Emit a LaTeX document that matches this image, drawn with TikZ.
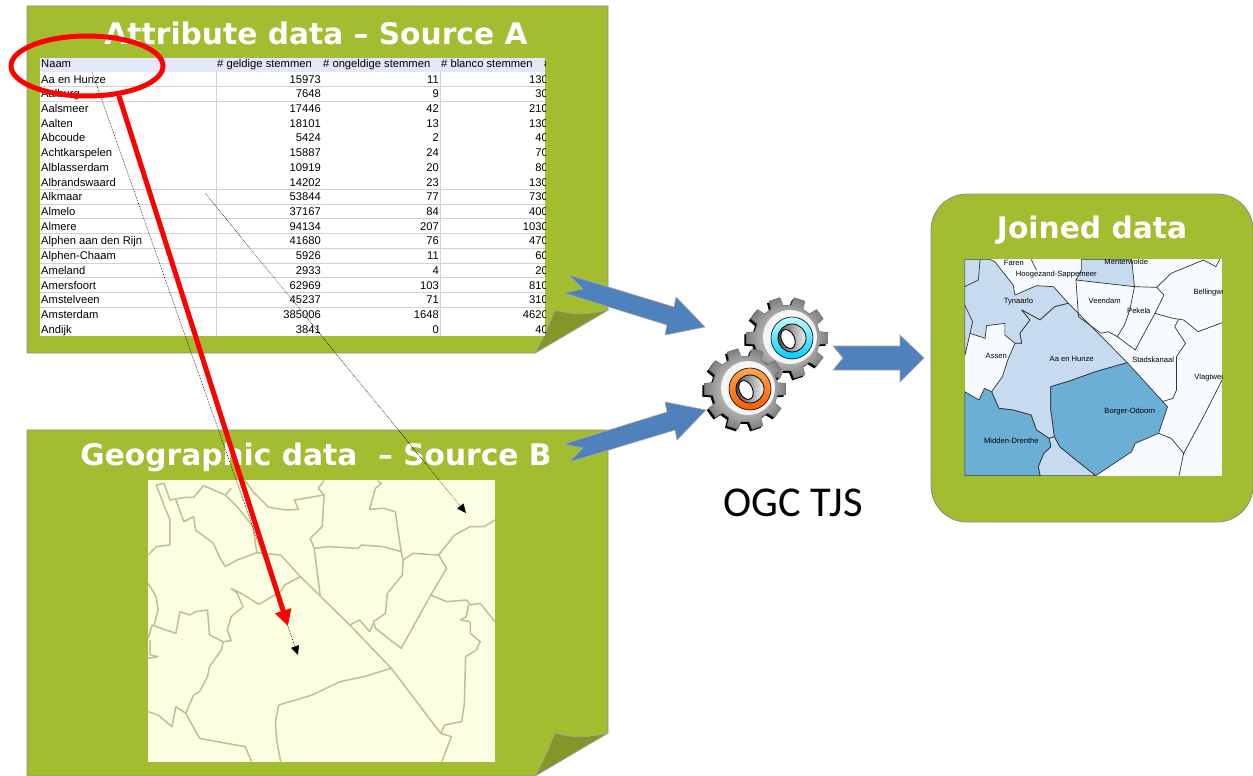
\documentclass[tikz,border=0pt]{standalone}
\usepackage{fontspec}
\usetikzlibrary{arrows.meta,shapes.geometric}
\setmainfont{Liberation Sans}
\newfontfamily\titlefamily{DejaVu Sans}
\newfontfamily\calloutfamily{Carlito}
\definecolor{sheetgreen}{HTML}{A3BD30}
\definecolor{foldgreen}{HTML}{849628}
\definecolor{blockblue}{HTML}{4F81BD}
\definecolor{paleyellow}{HTML}{FDFFE3}
\definecolor{mapline}{HTML}{BDBF98}
\definecolor{paleblue}{HTML}{C6DBEF}
\definecolor{midblue}{HTML}{6BAED6}
\definecolor{nearwhite}{HTML}{F7FBFF}
\definecolor{headerfill}{HTML}{E4E6FB}
\newcommand{\gearteeth}{(-11:33) \foreach \a in {0,36,...,324} {-- ({\a-11}:33) -- ({\a-8}:41) -- ({\a+8}:41) -- ({\a+11}:33)} -- cycle}
\tikzset{
  sheet/.style={fill=sheetgreen,draw=black!45,line width=.8pt},
  fold/.style={fill=foldgreen,draw=black!35,line width=.6pt},
  blockarrow/.style={fill=blockblue,draw=black!35,line width=.6pt},
  title/.style={text=white,font=\titlefamily\bfseries\fontsize{29.7}{34}\selectfont},
  cell/.style={inner sep=0pt,font=\fontsize{11.2}{13}\selectfont},
  border/.style={mapline,line width=1.5pt,line join=round},
  joinline/.style={black!80,line width=.7pt,line join=round},
  place/.style={inner sep=0pt,font=\fontsize{7.6}{9}\selectfont},
  pointer/.style={densely dotted,line width=.6pt,-{Triangle[length=9pt,width=8pt]}},
  pics/gearwheel/.style n args={2}{code={
    \fill[black,shift={(-2,2)}] \gearteeth;
    \shade[inner color=white,outer color=black!50,draw=black!60,line width=.4pt] \gearteeth;
    \fill[black!4] (3,-1) circle [radius=27];
    \shade[top color=#1,bottom color=#2,draw=black,line width=.6pt] (5,0) circle [radius=21];
    \shade[left color=black!70,right color=black!5,draw=black,line width=.8pt] (5,0) circle [radius=14];
    \fill[white,draw=black,line width=.9pt,rotate around={25:(1,1)}] (1,1) ellipse [x radius=6.5,y radius=10];
  }}
}
\begin{document}
\begin{tikzpicture}[x=1pt,y=-1pt]
\useasboundingbox (0,0) rectangle (1253,776);
\draw[sheet] (27,6) -- (608,6) -- (608,310) -- (535,353) -- (27,353) -- cycle;
\draw[fold] (535,353) .. controls (545,335) and (550,322) .. (555,310) .. controls (575,316) and (590,314) .. (608,310) -- cycle;
\draw[sheet] (27,430) -- (608,430) -- (608,733) -- (535,776) -- (27,776) -- cycle;
\draw[fold] (535,776) .. controls (545,758) and (550,745) .. (555,733) .. controls (575,739) and (590,737) .. (608,733) -- cycle;
\draw[sheet,rounded corners=36pt] (931,194) rectangle (1253,522);
\node[title] (attrtitle) at (316,33) {Attribute data – Source A};
\node[title] (geotitle) at (316,457) {Geographic data \ – Source B};
\node[title] (jointitle) at (1092,230) {Joined data};
\node[inner sep=0pt,font=\calloutfamily\fontsize{42.5}{50}\selectfont] (tjslabel) at (793,503) {OGC TJS};
\fill[white] (40,58) rectangle (545,336);
\fill[headerfill] (40,58) rectangle (545,72);
\foreach \r in {1,2,8,9,...,16}
  \draw[black!18,line width=.9pt] (40,{71.7+14.72*\r}) -- (545,{71.7+14.72*\r});
\foreach \c in {216,440}
  \draw[black!18,line width=.9pt] (\c,72) -- (\c,336);
\begin{scope}
\clip (40,58) rectangle (545,336);
\node[cell,anchor=base west] (naamhead) at (41,68) {Naam};
\node[cell,anchor=base west] (geldighead) at (217,68) {\# geldige stemmen};
\node[cell,anchor=base west] (ongeldighead) at (323,68) {\# ongeldige stemmen};
\node[cell,anchor=base west] (blancohead) at (441,68) {\# blanco stemmen};
\node[cell,anchor=base west] (nexthead) at (544,68) {\#};
\foreach \naam/\geldig/\ongeldig/\blanco [count=\r from 0] in {Aa en Hunze/15973/11/130,Aalburg/7648/9/30,Aalsmeer/17446/42/210,Aalten/18101/13/130,Abcoude/5424/2/40,Achtkarspelen/15887/24/70,Alblasserdam/10919/20/80,Albrandswaard/14202/23/130,Alkmaar/53844/77/730,Almelo/37167/84/400,Almere/94134/207/1030,Alphen aan den Rijn/41680/76/470,Alphen-Chaam/5926/11/60,Ameland/2933/4/20,Amersfoort/62969/103/810,Amstelveen/45237/71/310,Amsterdam/385006/1648/4620,Andijk/3841/0/40} {
  \node[cell,anchor=base west] (naam\r) at (41,{83+14.72*\r}) {\naam};
  \node[cell,anchor=base east] (geldig\r) at (321,{83+14.72*\r}) {\geldig};
  \node[cell,anchor=base east] (ongeldig\r) at (439,{83+14.72*\r}) {\ongeldig};
  \node[cell,anchor=base east] (blanco\r) at (548,{83+14.72*\r}) {\blanco};
}
\end{scope}
\fill[paleyellow] (148,480) rectangle (495,762);
\begin{scope}[shift={(0,420)},xscale=1/2.53,yscale=1/3]
\clip (375,180) rectangle (1252,1025);
\draw[border] (395,195) -- (415,190) -- (430,240) -- (470,232) -- (490,232) -- (515,197) -- (570,225) -- (585,205);
\draw[border] (620,182) -- (640,215) -- (680,262) -- (725,270) -- (755,268) -- (745,240) -- (820,225) -- (805,205) -- (820,182);
\draw[border] (820,225) -- (815,320) -- (785,355) -- (795,385) -- (830,380) -- (905,385) -- (915,375) -- (970,380) -- (1015,395) -- (1000,275) -- (970,265) -- (935,268) -- (950,205) -- (965,190) -- (955,182);
\draw[border] (795,385) -- (810,525);
\draw[border] (1015,395) -- (1020,420) -- (1045,400) -- (1110,405) -- (1150,345) -- (1190,320) -- (1225,320) -- (1252,300);
\draw[border] (1020,420) -- (1018,465) -- (980,520) -- (975,580) -- (945,605) -- (950,625) -- (1015,685) -- (1090,525) -- (1130,445) -- (1110,405);
\draw[border] (885,615) -- (910,600) -- (935,635) -- (945,610);
\draw[border] (1090,525) -- (1130,545) -- (1180,540) -- (1190,555) -- (1215,550) -- (1252,605);
\draw[border] (1185,555) -- (1180,590) -- (1165,600) -- (1190,605) -- (1190,640) -- (1215,665) -- (1205,690) -- (1178,710) -- (1175,850) -- (1168,905) -- (1125,915) -- (1115,940) -- (1142,950) -- (1118,1025);
\draw[border] (570,440) -- (600,420) -- (650,398) -- (710,405) -- (760,470) -- (885,615) -- (990,745) -- (1115,940);
\draw[border] (990,745) -- (920,770) -- (860,785) -- (790,825) -- (705,855) -- (697,905) -- (700,960) -- (710,1025);
\draw[border] (760,470) -- (720,495) -- (710,515) -- (655,553) -- (610,520) -- (585,505) -- (600,520) -- (615,560) -- (585,590) -- (575,630) -- (585,662) -- (565,665) -- (530,645) -- (525,570) -- (495,575) -- (480,585) -- (455,575) -- (445,640) -- (420,630) -- (385,615) -- (375,655);
\draw[border] (565,665) -- (560,690) -- (530,740) -- (525,770) -- (505,815) -- (490,825) -- (470,880) -- (445,860) -- (435,920) -- (400,885) -- (375,875);
\draw[border] (470,880) -- (505,955) -- (550,965) -- (620,980) -- (637,1025);
\draw[border] (375,490) -- (395,530) -- (400,570) -- (390,615);
\draw[border] (375,405) -- (395,380) -- (430,375) -- (430,300) -- (410,240) -- (395,195);
\draw[border] (570,440) -- (555,410) -- (540,370) -- (495,330) -- (490,290) -- (465,305) -- (445,240);
\draw[border] (650,400) -- (640,320) -- (600,260) -- (570,225);
\draw[border] (380,660) -- (380,705) -- (400,710) -- (375,715);
\end{scope}
\fill[nearwhite] (965,259) rectangle (1222,476);
\begin{scope}[shift={(690,190)},xscale=1/2.785,yscale=1/3]
\clip (765,208) rectangle (1482,857);
\draw[joinline,fill=paleblue] (765,208) -- (835,208) -- (849,215) -- (900,285) -- (905,315) -- (965,287) -- (1012,290) -- (1054,340) -- (1016,350) -- (975,390) -- (924,360) -- (947,390) -- (919,430) -- (924,460) -- (905,460) -- (877,435) -- (877,400) -- (826,407) -- (822,445) -- (780,430) -- (766,495) -- (765,495) -- cycle;
\draw[joinline] (808,208) -- (803,270) -- (765,290);
\draw[joinline] (765,345) -- (787,395) -- (780,430);
\draw[joinline,fill=paleblue] (1090,208) -- (1090,240) -- (1075,270) -- (1238,290) -- (1230,208) -- cycle;
\draw[joinline,fill=paleblue] (1054,340) -- (1218,518) -- (1130,545) -- (1060,572) -- (1005,590) -- (1005,660) -- (1015,740) -- (1000,745) -- (965,720) -- (950,675) -- (900,660) -- (860,655) -- (840,605) -- (870,560) -- (885,510) -- (905,460) -- (924,460) -- (919,430) -- (947,390) -- (924,360) -- (975,390) -- (1016,350) -- cycle;
\draw[joinline,fill=paleblue] (1015,740) -- (1030,770) -- (1075,810) -- (1130,857) -- (975,857) -- (970,830) -- (985,790) -- (1005,770) -- (1000,745) -- cycle;
\draw[joinline,fill=midblue] (1218,518) -- (1330,650) -- (1305,730) -- (1240,760) -- (1230,785) -- (1130,857) -- (1075,810) -- (1030,770) -- (1015,740) -- (1005,660) -- (1005,590) -- (1060,572) -- (1130,545) -- cycle;
\draw[joinline,fill=midblue] (765,605) -- (805,630) -- (820,595) -- (840,605) -- (860,655) -- (900,660) -- (950,675) -- (965,720) -- (1000,745) -- (1005,770) -- (985,790) -- (970,830) -- (975,857) -- (765,857) -- cycle;
\draw[joinline] (1238,290) -- (1300,292) -- (1320,315) -- (1295,370) -- (1240,480) -- (1190,440) -- (1210,405) -- (1225,360) -- (1238,290);
\draw[joinline] (1075,270) -- (1082,380) -- (1145,430) -- (1165,425) -- (1190,440);
\draw[joinline] (1300,292) -- (1340,250) -- (1430,210) -- (1465,230) -- (1475,208);
\draw[joinline] (1295,370) -- (1345,385) -- (1375,390) -- (1415,425) -- (1482,398);
\draw[joinline] (1360,390) -- (1350,410) -- (1380,460) -- (1355,500) -- (1355,600) -- (1345,625) -- (1315,635);
\draw[joinline] (1305,730) -- (1340,745) -- (1375,790) -- (1362,857);
\draw[joinline] (1375,790) -- (1430,680) -- (1482,570);
\draw[joinline] (950,208) -- (965,240);
\node[place] (faren) at (902,218) {Faren};
\node[place] (hoogezand) at (1020,254) {Hoogezand-Sappemeer};
\node[place] (menterwolde) at (1215,215) {Menterwolde};
\node[place] (tynaarlo) at (915,335) {Tynaarlo};
\node[place] (veendam) at (1155,333) {Veendam};
\node[place] (pekela) at (1250,362) {Pekela};
\node[place,anchor=west] (bellingwedde) at (1402,308) {Bellingwedde};
\node[place] (assen) at (853,498) {Assen};
\node[place] (aaenhunze) at (1063,508) {Aa en Hunze};
\node[place] (stadskanaal) at (1290,510) {Stadskanaal};
\node[place,anchor=west] (vlagtwedde) at (1404,562) {Vlagtwedde};
\node[place] (borger) at (1225,665) {Borger-Odoorn};
\node[place] (midden) at (895,753) {Midden-Drenthe};
\end{scope}
\draw[blockarrow] (569,275) -- (583,289) -- (564,293) -- (667,325) -- (665,335) -- (705,327) -- (676,297) -- (674,307) -- cycle;
\draw[blockarrow] (569,462) -- (583,448) -- (564,444) -- (667,412) -- (665,402) -- (706,410) -- (677,440) -- (675,430) -- cycle;
\draw[blockarrow] (833,346) -- (843,358) -- (833,370) -- (900,370) -- (900,382) -- (924,358) -- (900,335) -- (900,346) -- cycle;
\pic (bluegear) at (787,338) {gearwheel={cyan!25}{cyan!80!blue}};
\pic (orangegear) at (745,389) {gearwheel={orange!70!white}{orange!70!red}};
\coordinate (hunzecell) at (92,72);
\coordinate (geomiddle) at (298,655);
\coordinate (tablemiddle) at (205,193);
\coordinate (geocorner) at (466,513);
\coordinate (geohit) at (288,626);
\draw[pointer] (hunzecell) -- (geomiddle);
\draw[pointer] (tablemiddle) -- (geocorner);
\node[draw=red,ellipse,line width=5pt,minimum width=152pt,minimum height=60pt,inner sep=0pt] (naamring) at (87,66) {};
\draw[red,line width=5pt,-{Triangle[length=16pt,width=16pt]}] (naamring.317) -- (geohit);
\end{tikzpicture}
\end{document}
